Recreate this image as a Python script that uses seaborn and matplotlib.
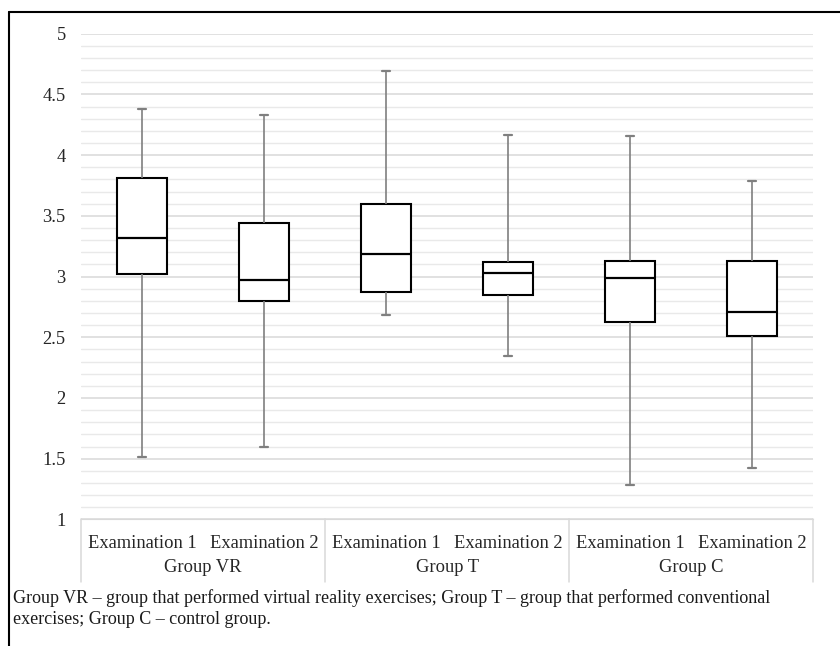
import numpy as np
import pandas as pd
import matplotlib.pyplot as plt
import matplotlib.transforms as mtransforms
from matplotlib.lines import Line2D
from matplotlib.ticker import MultipleLocator, FormatStrFormatter
import seaborn as sns

groups = ["Group VR", "Group T", "Group C"]
exams = ["Examination 1", "Examination 2"]

# five-number summaries: min, q1, median, q3, max
vr_exam1 = [1.51, 3.02, 3.32, 3.81, 4.38]
vr_exam2 = [1.60, 2.80, 2.97, 3.44, 4.33]
t_exam1 = [2.68, 2.87, 3.19, 3.60, 4.69]
t_exam2 = [2.35, 2.85, 3.03, 3.12, 4.17]
c_exam1 = [1.28, 2.63, 2.99, 3.13, 4.16]
c_exam2 = [1.42, 2.51, 2.71, 3.13, 3.79]

caption = ("Group VR \u2013 group that performed virtual reality exercises; Group T \u2013 group that performed conventional\n"
           "exercises; Group C \u2013 control group.")


def build_frame():
    series = [vr_exam1, vr_exam2, t_exam1, t_exam2, c_exam1, c_exam2]
    rows = []
    keys = []
    i = 0
    for g in groups:
        for e in exams:
            key = g + " / " + e
            keys.append(key)
            for v in series[i]:
                rows.append({"key": key, "group": g, "exam": e, "value": v})
            i += 1
    return pd.DataFrame(rows), keys


def plot(df, keys):
    sns.set_style("white")
    plt.rcParams["font.family"] = ["Liberation Serif", "DejaVu Serif"]

    W, H = 840, 646
    fig = plt.figure(figsize=(W / 100, H / 100), dpi=100)
    left, right, top, bottom = 81, 813, 33.8, 519.4
    ax = fig.add_axes([left / W, 1 - bottom / H, (right - left) / W, (bottom - top) / H])

    # whis=(0, 100): whiskers go to min / max, same as the Excel chart
    sns.boxplot(data=df, x="key", y="value", order=keys, whis=(0, 100),
                width=0.41, color="white", linecolor="black", linewidth=1.5,
                capwidths=0.06, ax=ax,
                whiskerprops=dict(color="#7f7f7f", linewidth=1.2),
                capprops=dict(color="#7f7f7f", linewidth=1.6),
                medianprops=dict(color="black", linewidth=1.6),
                boxprops=dict(edgecolor="black", linewidth=1.5, facecolor="white"))

    ax.set_xlim(-0.5, len(keys) - 0.5)
    ax.set_ylim(1, 5)
    ax.yaxis.set_major_locator(MultipleLocator(0.5))
    ax.yaxis.set_minor_locator(MultipleLocator(0.1))
    ax.yaxis.set_major_formatter(FormatStrFormatter("%g"))
    ax.yaxis.grid(True, which="major", color="#d9d9d9", linewidth=1.1)
    ax.yaxis.grid(True, which="minor", color="#e9e9e9", linewidth=1.0)
    ax.set_axisbelow(True)

    for s in ["top", "right", "left"]:
        ax.spines[s].set_visible(False)
    ax.spines["bottom"].set_color("#d9d9d9")

    ax.set_xticks(range(len(keys)))
    ax.set_xticklabels([k.split(" / ")[1] for k in keys])
    ax.tick_params(axis="both", which="both", length=0, labelsize=13.3, colors="#262626")
    ax.tick_params(axis="y", pad=11)
    ax.tick_params(axis="x", pad=11)
    ax.set_xlabel("")
    ax.set_ylabel("")

    trans = mtransforms.blended_transform_factory(ax.transData, ax.transAxes)
    n = len(exams)
    for i, g in enumerate(groups):
        ax.text(i * n + (n - 1) / 2, -0.1, g, transform=trans, ha="center",
                va="center", fontsize=13.3, color="#262626")
    for i in range(len(groups) + 1):
        x = i * n - 0.5
        ax.plot([x, x], [0, -0.129], transform=trans, color="#d9d9d9",
                linewidth=1.1, clip_on=False)

    # caption below the chart, first line centred near y=597 px
    fig.text(13 / W, 1 - 589 / H, caption, ha="left", va="top",
             fontsize=13, color="#1a1a1a", linespacing=1.33)

    fig.add_artist(Line2D([9 / W, 9 / W], [0, 1 - 12 / H], color="black", linewidth=1.5))
    fig.add_artist(Line2D([9 / W, 1], [1 - 12 / H, 1 - 12 / H], color="black", linewidth=1.5))

    fig.savefig("out.png", dpi=100)


def main():
    df, keys = build_frame()
    plot(df, keys)


if __name__ == "__main__":
    main()
